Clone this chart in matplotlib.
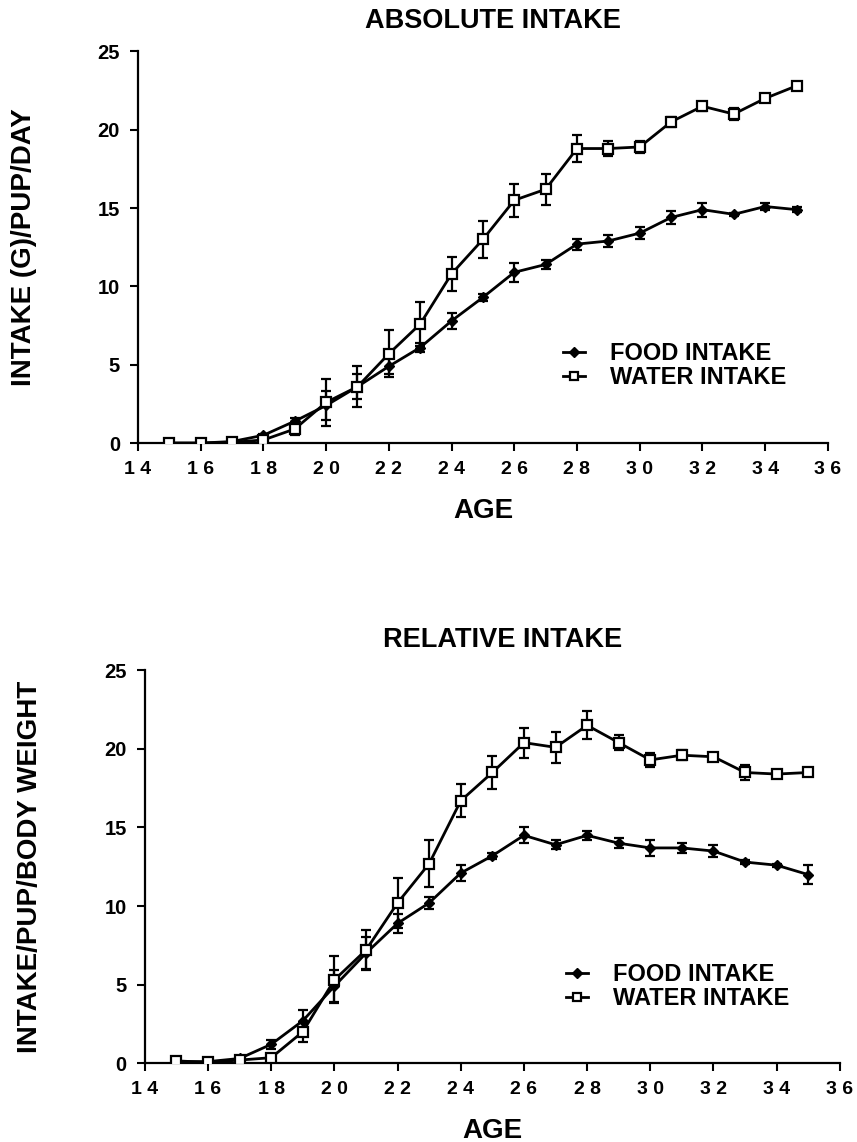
import numpy as np
import matplotlib
matplotlib.use("Agg")
from matplotlib import pyplot as plt

plt.rcParams['font.family'] = ['Liberation Sans', 'DejaVu Sans']
plt.rcParams['font.weight'] = 'bold'

## Data: intake per pup, days 15-35
age = list(range(15, 36))

abs_food = [0, 0, 0.1, 0.5, 1.4, 2.4, 3.6, 4.9, 6.1, 7.8, 9.3,
            10.9, 11.4, 12.7, 12.9, 13.4, 14.4, 14.9, 14.6, 15.1, 14.9]
abs_food_err = [0, 0, 0.05, 0.1, 0.2, 0.9, 0.8, 0.5, 0.3, 0.5, 0.2,
                0.6, 0.3, 0.35, 0.4, 0.4, 0.4, 0.45, 0.1, 0.25, 0.15]
abs_water = [0, 0, 0.05, 0.2, 0.9, 2.6, 3.6, 5.7, 7.6, 10.8, 13.0,
             15.5, 16.2, 18.8, 18.8, 18.9, 20.5, 21.5, 21.0, 22.0, 22.8]
abs_water_err = [0, 0, 0, 0.1, 0.4, 1.5, 1.3, 1.5, 1.4, 1.1, 1.2,
                 1.05, 1.0, 0.85, 0.5, 0.4, 0.3, 0.3, 0.4, 0.2, 0.1]

rel_food = [0.1, 0.1, 0.3, 1.2, 2.7, 4.9, 7.0, 8.9, 10.2, 12.1, 13.2,
            14.5, 13.9, 14.5, 14.0, 13.7, 13.7, 13.5, 12.8, 12.6, 12.0]
rel_food_err = [0, 0.05, 0.1, 0.3, 0.7, 1.0, 1.0, 0.6, 0.4, 0.5, 0.2,
                0.5, 0.3, 0.3, 0.3, 0.5, 0.3, 0.4, 0.15, 0.1, 0.6]
rel_water = [0.15, 0.05, 0.2, 0.35, 2.0, 5.3, 7.2, 10.2, 12.7, 16.7, 18.5,
             20.4, 20.1, 21.5, 20.4, 19.3, 19.6, 19.5, 18.5, 18.4, 18.5]
rel_water_err = [0, 0, 0, 0, 0.65, 1.5, 1.3, 1.6, 1.5, 1.06, 1.06,
                 0.95, 1.0, 0.9, 0.5, 0.45, 0.3, 0.2, 0.45, 0.1, 0.1]

xticks = list(range(14, 37, 2))
xtick_labels = [' '.join(str(t)) for t in xticks]
yticks = [0, 5, 10, 15, 20, 25]

fig = plt.figure(figsize=(8.57, 11.42), dpi=100)
ax1 = fig.add_axes([0.161, 0.612, 0.805, 0.343])
ax2 = fig.add_axes([0.169, 0.069, 0.811, 0.344])


def draw_panel(ax, food, food_err, water, water_err, title, ylabel, leg_anchor):
    ax.errorbar(age, food, yerr=food_err, color='black', lw=2, marker='D', ms=5.5,
                mfc='black', mec='black', capsize=3.5, elinewidth=1.6,
                capthick=1.6, label='FOOD INTAKE', zorder=3)
    ax.errorbar(age, water, yerr=water_err, color='black', lw=2, marker='s', ms=6.5,
                mfc='white', mec='black', mew=1.6, capsize=3.5, elinewidth=1.6,
                capthick=1.6, label='WATER INTAKE', zorder=4)
    ax.set_xlim(14, 36)
    ax.set_ylim(0, 25)
    ax.set_xticks(xticks)
    ax.set_xticklabels(xtick_labels, fontsize=14, fontweight='bold')
    ax.set_yticks(yticks)
    ax.set_yticklabels([str(t) for t in yticks], fontsize=14.5, fontweight='bold')
    ax.tick_params(direction='out', length=6, width=1.5, pad=7)
    for side in ['top', 'right']:
        ax.spines[side].set_visible(False)
    for side in ['left', 'bottom']:
        ax.spines[side].set_linewidth(1.6)
    ax.set_xlabel('AGE', fontsize=20, fontweight='bold')
    ax.xaxis.set_label_coords(0.5, -0.14)
    ax.set_ylabel(ylabel, fontsize=20, fontweight='bold')
    ax.yaxis.set_label_coords(-0.146, 0.5)
    ax.set_title(title, fontsize=19.5, fontweight='bold', pad=17, x=0.515)
    handles, labels = ax.get_legend_handles_labels()
    handles = [h[0] for h in handles]
    ax.legend(handles, labels, loc='upper left', bbox_to_anchor=leg_anchor,
              frameon=False, prop={'size': 17, 'weight': 'bold'},
              handlelength=0.95, handletextpad=1.05, labelspacing=0.05,
              borderaxespad=0, borderpad=0, markerscale=0.85)


draw_panel(ax1, abs_food, abs_food_err, abs_water, abs_water_err,
           'ABSOLUTE INTAKE', 'INTAKE (G)/PUP/DAY', (0.616, 0.258))
draw_panel(ax2, rel_food, rel_food_err, rel_water, rel_water_err,
           'RELATIVE INTAKE', 'INTAKE/PUP/BODY WEIGHT', (0.606, 0.255))

fig.savefig('out.png', dpi=100)
